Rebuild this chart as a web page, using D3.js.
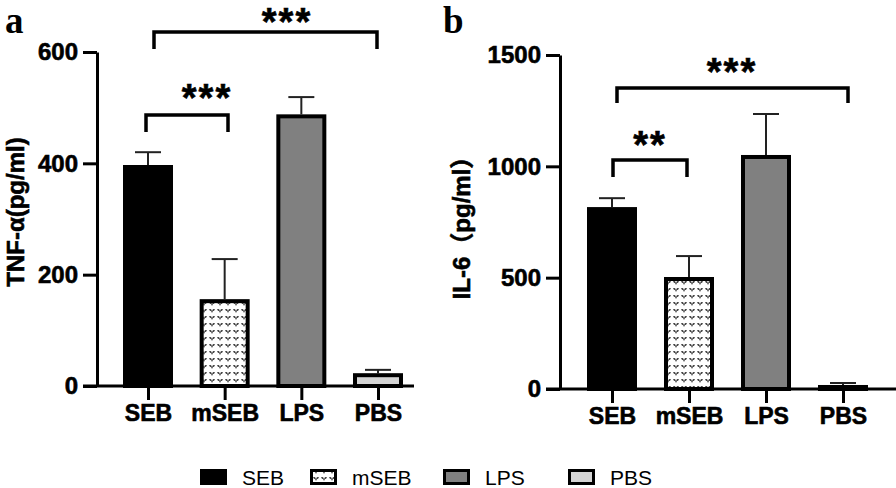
<!DOCTYPE html>
<html><head><meta charset="utf-8">
<script src="https://cdn.jsdelivr.net/npm/d3@7"></script>
<style>body{margin:0;background:#fff}svg{display:block}</style>
</head><body>
<script>
const categories = ["SEB","mSEB","LPS","PBS"];
const tnfMean = [397, 156, 488, 23];
const tnfErr  = [23, 72, 31, 6];
const il6Mean = [817, 503, 1051, 18];
const il6Err  = [40, 94, 184, 9];
const tnfTicks = [0, 200, 400, 600];
const il6Ticks = [0, 500, 1000, 1500];
const fills = ["#000000", "url(#dots)", "#808080", "#d4d4d4"];

const W = 896, H = 488;
const svg = d3.select("body").append("svg").attr("width", W).attr("height", H);

// pattern for mSEB
const defs = svg.append("defs");
const pat = defs.append("pattern").attr("id","dots").attr("patternUnits","userSpaceOnUse")
  .attr("width", 8).attr("height", 7);
pat.append("rect").attr("width",8).attr("height",7).attr("fill","#fff");
pat.append("path").attr("d","M1,1 L3,1 L4,3 L5,1 L7,1 L6,3 L5,3 L4,5 L3,3 L2,3 Z")
  .attr("fill","#4a4a4a");

const font = "Arial, 'Liberation Sans', 'Noto Sans CJK SC', sans-serif";

function boldText(sel, size){
  sel.attr("font-family",font).attr("font-weight","bold").attr("font-size",size)
    .attr("fill","#000").attr("stroke","#000").attr("stroke-width",0.6);
}

function panel(opt){
  const g = svg.append("g");
  const y = d3.scaleLinear().domain([0, opt.max]).range([opt.y0, opt.y1]);
  const x = d3.scalePoint().domain(categories).range(opt.xr);
  const bw = 50;

  // y axis
  const ya = g.append("g").attr("transform", `translate(${opt.ax},0)`)
    .call(d3.axisLeft(y).tickValues(opt.ticks).tickFormat(d3.format("d"))
      .tickSize(14).tickSizeOuter(0).tickPadding(5));
  ya.select(".domain").attr("stroke","#000").attr("stroke-width",3);
  ya.selectAll(".tick line").attr("stroke","#000").attr("stroke-width",3);
  boldText(ya.selectAll(".tick text"), 24);

  // x axis
  const xa = g.append("g").attr("transform", `translate(0,${opt.y0})`)
    .call(d3.axisBottom(x).tickSize(14).tickSizeOuter(0).tickPadding(5));
  xa.select(".domain").remove();
  xa.selectAll(".tick line").attr("stroke","#000").attr("stroke-width",3);
  boldText(xa.selectAll(".tick text"), 23);
  g.append("line").attr("x1", opt.ax-14).attr("x2", opt.xEnd)
    .attr("y1", opt.y0).attr("y2", opt.y0).attr("stroke","#000").attr("stroke-width",3);

  // error bars
  const eb = g.append("g");
  categories.forEach((c,i)=>{
    const cx = x(c);
    eb.append("line").attr("x1",cx).attr("x2",cx)
      .attr("y1", y(opt.mean[i])).attr("y2", y(opt.mean[i]+opt.err[i]))
      .attr("stroke","#222").attr("stroke-width",2);
    eb.append("line").attr("x1",cx-13).attr("x2",cx+13)
      .attr("y1", y(opt.mean[i]+opt.err[i])).attr("y2", y(opt.mean[i]+opt.err[i]))
      .attr("stroke","#222").attr("stroke-width",2);
  });
  // bars
  g.append("g").selectAll("rect").data(categories).join("rect")
    .attr("x", c => x(c) - bw/2 + 2)
    .attr("width", bw - 4)
    .attr("y", (c,i) => y(opt.mean[i]) + 2)
    .attr("height", (c,i) => Math.max(0, y(0) - y(opt.mean[i]) - 2))
    .attr("fill", (c,i) => fills[i])
    .attr("stroke","#000").attr("stroke-width",4);

  // brackets
  opt.brackets.forEach(b=>{
    g.append("path")
      .attr("d", `M${b.x1},${b.yb} V${b.yt} H${b.x2} V${b.yb}`)
      .attr("fill","none").attr("stroke","#000").attr("stroke-width",3.5);
    const t = g.append("text").attr("x", b.tx).attr("y", b.ty).attr("text-anchor","middle")
      .attr("letter-spacing","2px").text(b.label);
    boldText(t, 38);
  });

  // y label
  const yl = g.append("text").attr("transform", `translate(${opt.lx},${opt.ly}) rotate(-90)`)
    .attr("text-anchor","middle").text(opt.ylabel);
  boldText(yl, 24);

  // panel letter
  g.append("text").attr("x", opt.px).attr("y", 33)
    .attr("font-family","'Liberation Serif', 'Times New Roman', serif").attr("font-weight","bold")
    .attr("font-size",37).text(opt.letter);
}

panel({
  max: 600, y0: 386, y1: 52, ax: 97, xr: [148, 378], xEnd: 414,
  mean: tnfMean, err: tnfErr, ticks: tnfTicks,
  brackets: [
    {x1:146, x2:228, yt:115, yb:132, tx:207, ty:111, label:"***"},
    {x1:154, x2:377, yt:32, yb:49, tx:287, ty:35, label:"***"}
  ],
  ylabel: "TNF-α(pg/ml)", lx: 24, ly: 212, letter: "a", px: 5
});

panel({
  max: 1500, y0: 389, y1: 55, ax: 560, xr: [612, 843], xEnd: 896,
  mean: il6Mean, err: il6Err, ticks: il6Ticks,
  brackets: [
    {x1:613, x2:687, yt:160, yb:177, tx:650, ty:158, label:"**"},
    {x1:617, x2:848, yt:88, yb:103, tx:732, ty:85, label:"***"}
  ],
  ylabel: "IL-6（pg/ml）", lx: 470, ly: 222, letter: "b", px: 443
});

// legend
const legX = [200, 310, 443, 568];
const lg = svg.append("g");
categories.forEach((c,i)=>{
  lg.append("rect").attr("x", legX[i]+1.5).attr("y", 470.5).attr("width", 24).attr("height", 13)
    .attr("fill", fills[i]).attr("stroke","#000").attr("stroke-width",3);
  lg.append("text").attr("x", legX[i]+42).attr("y", 485)
    .attr("font-family",font).attr("font-size",21).attr("fill","#000").text(c);
});
</script>
</body></html>
